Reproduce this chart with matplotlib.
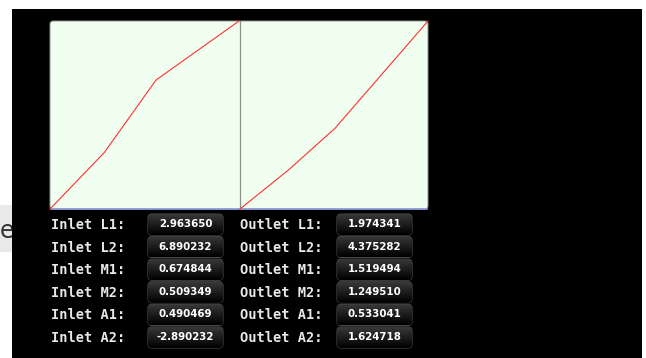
import numpy as np
import matplotlib
matplotlib.use('Agg')
import matplotlib.pyplot as plt
from matplotlib.patches import FancyBboxPatch, Rectangle

# curve data (normalised to the panel)
inlet_x = [0.0, 0.287, 0.561, 1.0]
inlet_y = [0.0, 0.300, 0.686, 1.0]
outlet_x = [0.0, 0.257, 0.505, 1.0]
outlet_y = [0.0, 0.207, 0.429, 1.0]

# readout table
inlet_labels = ['Inlet L1:', 'Inlet L2:', 'Inlet M1:', 'Inlet M2:', 'Inlet A1:', 'Inlet A2:']
inlet_values = ['2.963650', '6.890232', '0.674844', '0.509349', '0.490469', '-2.890232']
outlet_labels = ['Outlet L1:', 'Outlet L2:', 'Outlet M1:', 'Outlet M2:', 'Outlet A1:', 'Outlet A2:']
outlet_values = ['1.974341', '4.375282', '1.519494', '1.249510', '0.533041', '1.624718']

W, H = 646, 358
fig = plt.figure(figsize=(W / 100, H / 100), dpi=100)
fig.patch.set_facecolor('white')

# background axes in pixel coords
bg = fig.add_axes([0, 0, 1, 1])
bg.set_xlim(0, W)
bg.set_ylim(H, 0)
bg.set_axis_off()

# grey stub with the "e" on the far left
bg.add_patch(Rectangle((0, 205), 14, 47, facecolor='#e9e9e9', edgecolor='none', zorder=1))
bg.text(0, 231, 'e', fontsize=17, color='#333333', va='center', ha='left', zorder=2)
# black screen
bg.add_patch(Rectangle((12, 9), 630, 349, facecolor='black', edgecolor='none', zorder=3))

# panel backgrounds, one shared outline
bg.add_patch(FancyBboxPatch((50, 21), 378, 188, boxstyle='round,pad=0,rounding_size=3',
                            facecolor='#f0fff0', edgecolor='#8a948a', linewidth=0.7, zorder=4))
bg.plot([51, 427], [209, 209], color='#8f9fe0', linewidth=1.2, zorder=5)
bg.plot([239.5, 239.5], [21, 209], color='#8a928a', linewidth=0.9, zorder=5)

# curve axes
ax1 = fig.add_axes([50 / W, 1 - 209 / H, 189 / W, 188 / H])
ax2 = fig.add_axes([240 / W, 1 - 209 / H, 188 / W, 188 / H])
for ax, xs, ys in [(ax1, inlet_x, inlet_y), (ax2, outlet_x, outlet_y)]:
    ax.patch.set_alpha(0)
    ax.plot(xs, ys, color='#ff3030', linewidth=0.8, clip_on=False)
    ax.set_xlim(0, 1)
    ax.set_ylim(0, 1)
    ax.set_axis_off()

# readout rows
row_y = [225, 247.5, 270.2, 292.8, 315.4, 338]
grad = np.linspace(0.22, 0.0, 50).reshape(-1, 1)
grad = np.dstack([grad, grad, grad])

def value_box(xl, xr, yc, text):
    h = 21
    p = FancyBboxPatch((xl, yc - h / 2), xr - xl, h, boxstyle='round,pad=0,rounding_size=4',
                       facecolor='#111111', edgecolor='#4a4a4a', linewidth=0.8, zorder=6)
    bg.add_patch(p)
    im = bg.imshow(grad, extent=(xl, xr, yc + h / 2, yc - h / 2), aspect='auto', zorder=6.5,
                   interpolation='bilinear')
    im.set_clip_path(p)
    bg.text((xl + xr) / 2, yc - 0.5, text, color='white', fontsize=7.4, fontweight='bold',
            ha='center', va='center', zorder=8)

for i, y in enumerate(row_y):
    bg.text(51, y, inlet_labels[i], family='DejaVu Sans Mono', fontweight='bold', fontsize=9.8,
            color='#e8e8e8', ha='left', va='center', zorder=8)
    value_box(148, 223, y - 0.5, inlet_values[i])
    bg.text(240.5, y, outlet_labels[i], family='DejaVu Sans Mono', fontweight='bold', fontsize=9.8,
            color='#e8e8e8', ha='left', va='center', zorder=8)
    value_box(337, 412, y - 0.5, outlet_values[i])

bg.set_xlim(0, W)
bg.set_ylim(H, 0)
fig.savefig('out.png', dpi=100)
